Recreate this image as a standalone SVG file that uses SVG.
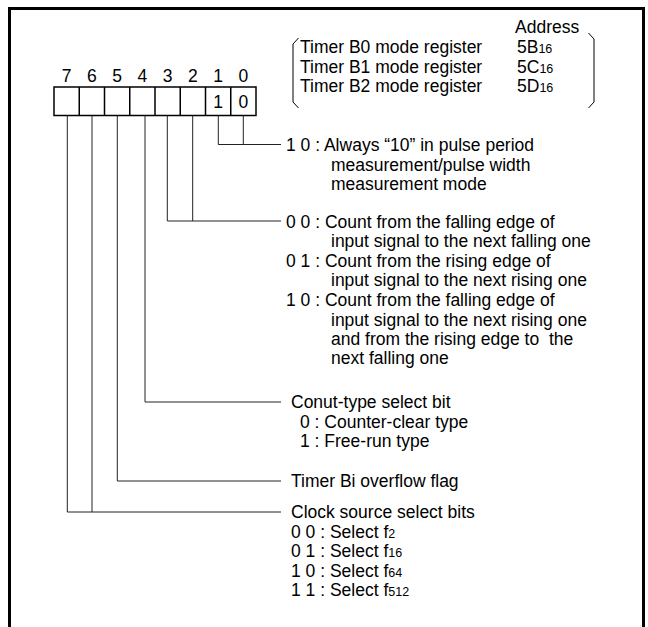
<svg xmlns="http://www.w3.org/2000/svg" width="648" height="627" viewBox="0 0 648 627">
<style>
text{font-family:"Liberation Sans",Arial,sans-serif;font-size:17.5px;fill:#000}
.s{font-size:12.5px}
.c{text-anchor:middle}
.ln{fill:none;stroke:#222;stroke-width:1}
.bx{fill:#fff;stroke:#000;stroke-width:1.5}
.br{fill:none;stroke:#000;stroke-width:1}
</style>
<rect width="648" height="627" fill="#fff"/>
<path d="M9.5,627 V8.5 H643.5 V627" fill="none" stroke="#000" stroke-width="3"/>

<g id="title">
<text x="515" y="33">Address</text>
<path class="br" d="M298.5,38 L293,44 V102 L298.5,108"/>
<path class="br" d="M588.5,33 L594,39 V102 L588.5,108"/>
<text x="300" y="53">Timer B0 mode register</text>
<text x="300" y="73">Timer B1 mode register</text>
<text x="300" y="92">Timer B2 mode register</text>
<text x="517" y="53">5B<tspan class="s">16</tspan></text>
<text x="517" y="73">5C<tspan class="s">16</tspan></text>
<text x="517" y="92">5D<tspan class="s">16</tspan></text>
</g>

<g id="register">
<rect class="bx" x="54" y="87" width="202" height="28.5"/>
<path d="M79.25,87 V115.5 M104.5,87 V115.5 M129.75,87 V115.5 M155,87 V115.5 M180.25,87 V115.5 M205.5,87 V115.5 M230.75,87 V115.5" style="fill:none;stroke:#000;stroke-width:1.5"/>
<text class="c" x="66.6" y="82">7</text>
<text class="c" x="91.9" y="82">6</text>
<text class="c" x="117.1" y="82">5</text>
<text class="c" x="142.4" y="82">4</text>
<text class="c" x="167.6" y="82">3</text>
<text class="c" x="192.9" y="82">2</text>
<text class="c" x="218.1" y="82">1</text>
<text class="c" x="243.4" y="82">0</text>
<text class="c" x="218.1" y="108">1</text>
<text class="c" x="243.4" y="108">0</text>
</g>

<g id="connectors">
<path class="ln" d="M243.3,115.5 V144.5 M218.3,115.5 V144.5 H281"/>
<path class="ln" d="M192.7,115.5 V221 M167.3,115.5 V221 H281"/>
<path class="ln" d="M145,115.5 V402 H281"/>
<path class="ln" d="M117.3,115.5 V481 H281"/>
<path class="ln" d="M92,115.5 V512 M67.3,115.5 V512 H281"/>
</g>

<g id="bits10">
<text x="286" y="151">1 0 : Always “10” in pulse period</text>
<text x="331" y="171">measurement/pulse width</text>
<text x="331" y="190">measurement mode</text>
</g>

<g id="bits32">
<text x="286" y="228">0 0 : Count from the falling edge of</text>
<text x="331" y="247">input signal to the next falling one</text>
<text x="286" y="267">0 1 : Count from the rising edge of</text>
<text x="331" y="286">input signal to the next rising one</text>
<text x="286" y="306">1 0 : Count from the falling edge of</text>
<text x="331" y="326">input signal to the next rising one</text>
<text x="331" y="345" xml:space="preserve">and from the rising edge to  the</text>
<text x="331" y="364">next falling one</text>
</g>

<g id="bit4">
<text x="291" y="408">Conut-type select bit</text>
<text x="300" y="428">0 : Counter-clear type</text>
<text x="300" y="447">1 : Free-run type</text>
</g>

<g id="bit5">
<text x="291" y="487">Timer Bi overflow flag</text>
</g>

<g id="bits76">
<text x="291" y="518">Clock source select bits</text>
<text x="291" y="538">0 0 : Select f<tspan class="s">2</tspan></text>
<text x="291" y="557">0 1 : Select f<tspan class="s">16</tspan></text>
<text x="291" y="577">1 0 : Select f<tspan class="s">64</tspan></text>
<text x="291" y="596">1 1 : Select f<tspan class="s">512</tspan></text>
</g>
</svg>
